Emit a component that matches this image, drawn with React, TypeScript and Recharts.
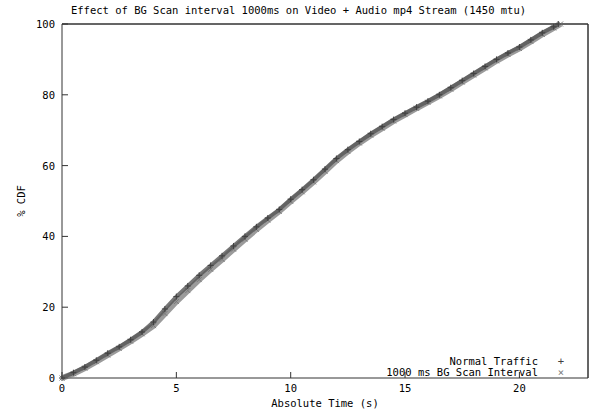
import React from "react";
import { ScatterChart, Scatter, XAxis, YAxis, Label } from "recharts";

// time (s) vs % CDF
const normalTime = [
  0, 0.5, 1, 1.5, 2, 2.5, 3, 3.5, 4, 4.5, 5, 5.5, 6, 6.5, 7, 7.5, 8, 8.5, 9,
  9.5, 10, 10.5, 11, 11.5, 12, 12.5, 13, 13.5, 14, 14.5, 15, 15.5, 16, 16.5,
  17, 17.5, 18, 18.5, 19, 19.5, 20, 20.5, 21, 21.5, 21.7,
];
const normalCdf = [
  0, 1.5, 3.1, 5, 7, 8.8, 10.8, 13, 15.8, 19.5, 23, 26, 29, 31.8, 34.5, 37.3,
  40, 42.7, 45.2, 47.6, 50.5, 53.2, 56, 59, 62, 64.5, 66.8, 69, 71, 73, 74.8,
  76.5, 78.2, 80, 82, 84, 86, 88, 90, 91.8, 93.5, 95.5, 97.5, 99.2, 100,
];

const scanTime = [
  0, 0.5, 1, 1.5, 2, 2.5, 3, 3.5, 4, 4.5, 5, 5.5, 6, 6.5, 7, 7.5, 8, 8.5, 9,
  9.5, 10, 10.5, 11, 11.5, 12, 12.5, 13, 13.5, 14, 14.5, 15, 15.5, 16, 16.5,
  17, 17.5, 18, 18.5, 19, 19.5, 20, 20.5, 21, 21.5, 21.8,
];
const scanCdf = [
  0, 1.2, 2.8, 4.6, 6.5, 8.4, 10.4, 12.5, 14.8, 18.2, 21.6, 24.7, 27.8, 30.7,
  33.5, 36.4, 39.2, 42, 44.6, 47.1, 49.9, 52.6, 55.4, 58.4, 61.4, 64, 66.4,
  68.6, 70.6, 72.6, 74.4, 76.2, 77.9, 79.7, 81.6, 83.6, 85.6, 87.6, 89.6, 91.4,
  93.1, 95.1, 97.1, 98.9, 100,
];

const xTicks = [0, 5, 10, 15, 20];
const yTicks = [0, 20, 40, 60, 80, 100];
const X_MAX = 23;

const normalData = normalTime.map((t, i) => ({ t, cdf: normalCdf[i] }));
const scanData = scanTime.map((t, i) => ({ t, cdf: scanCdf[i] }));

const FONT = "'DejaVu Sans Mono', monospace";
const AXIS = "#333";
const PLOT_W = 526;

const Plus = (props: any) => {
  const { cx, cy } = props;
  return (
    <path
      d={`M${cx - 3},${cy}H${cx + 3}M${cx},${cy - 3}V${cy + 3}`}
      stroke="#404040"
      strokeWidth={1}
      fill="none"
    />
  );
};

const Cross = (props: any) => {
  const { cx, cy } = props;
  return (
    <path
      d={`M${cx - 2.5},${cy - 2.5}L${cx + 2.5},${cy + 2.5}M${cx - 2.5},${cy + 2.5}L${cx + 2.5},${cy - 2.5}`}
      stroke="#7a7a7a"
      strokeWidth={1}
      fill="none"
    />
  );
};

const Nothing = () => null;

// tickSize is negative so the tick lines point into the plot (gnuplot style);
// the labels are moved back outside here
const BottomTick = (props: any) => {
  const { x, y, payload } = props;
  return (
    <text x={x} y={Number(y) + 20} textAnchor="middle" fontFamily={FONT} fontSize={10.5} fill="#000">
      {payload.value}
    </text>
  );
};

const LeftTick = (props: any) => {
  const { x, y, payload } = props;
  return (
    <text x={Number(x) - 13} y={Number(y) + 4} textAnchor="end" fontFamily={FONT} fontSize={10.5} fill="#000">
      {payload.value}
    </text>
  );
};

const legendRow: React.CSSProperties = {
  display: "flex",
  justifyContent: "flex-end",
  height: 11,
  lineHeight: "11px",
};

export default function App() {
  return (
    <div style={{ position: "absolute", left: 0, top: 0 }}>
      <ScatterChart
        width={597}
        height={410}
        margin={{ top: 0, right: 0, bottom: 0, left: 0 }}
      >
        <XAxis
          dataKey="t"
          type="number"
          domain={[0, X_MAX]}
          ticks={xTicks}
          height={32}
          stroke={AXIS}
          tickSize={-6}
          tickMargin={0}
          tick={<BottomTick />}
        >
          <Label
            content={({ viewBox }: any) => (
              <text
                x={viewBox.x + viewBox.width / 2}
                y={viewBox.y + 29}
                textAnchor="middle"
                fontFamily={FONT}
                fontSize={10.5}
                fill="#000"
              >
                Absolute Time (s)
              </text>
            )}
          />
        </XAxis>
        <XAxis
          xAxisId="t"
          orientation="top"
          dataKey="t"
          type="number"
          domain={[0, X_MAX]}
          ticks={xTicks}
          height={24}
          stroke={AXIS}
          tickSize={-6}
          tick={false}
        />
        <YAxis
          dataKey="cdf"
          type="number"
          domain={[0, 100]}
          ticks={yTicks}
          width={62}
          stroke={AXIS}
          tickSize={-6}
          tickMargin={0}
          tick={<LeftTick />}
        >
          <Label
            content={({ viewBox }: any) => {
              const cx = 25;
              const cy = viewBox.y + viewBox.height / 2;
              const left = viewBox.x + viewBox.width;
              return (
                <g>
                  {/* top and right border of the plot box */}
                  <path
                    d={`M${left},${viewBox.y}H${left + PLOT_W}V${viewBox.y + viewBox.height}`}
                    stroke={AXIS}
                    strokeWidth={1}
                    fill="none"
                  />
                  <text
                    x={cx}
                    y={cy}
                    transform={`rotate(-90 ${cx} ${cy})`}
                    textAnchor="middle"
                    fontFamily={FONT}
                    fontSize={10.5}
                    fill="#000"
                  >
                    % CDF
                  </text>
                </g>
              );
            }}
          />
        </YAxis>
        <YAxis
          yAxisId="r"
          orientation="right"
          dataKey="cdf"
          type="number"
          domain={[0, 100]}
          ticks={yTicks}
          width={9}
          stroke={AXIS}
          tickSize={-6}
          tick={false}
        />
        {/* carries the mirrored top/right axes */}
        <Scatter
          data={normalData}
          xAxisId="t"
          yAxisId="r"
          shape={<Nothing />}
          legendType="none"
          isAnimationActive={false}
        />
        <Scatter
          name="1000 ms BG Scan Interval"
          data={scanData}
          shape={<Cross />}
          line={{ stroke: "#7a7a7a", strokeWidth: 6, strokeOpacity: 0.75 }}
          lineType="joint"
          isAnimationActive={false}
        />
        <Scatter
          name="Normal Traffic"
          data={normalData}
          shape={<Plus />}
          line={{ stroke: "#555", strokeWidth: 4, strokeOpacity: 0.8 }}
          lineType="joint"
          isAnimationActive={false}
        />
      </ScatterChart>
      <div
        style={{
          position: "absolute",
          left: 0,
          top: 4,
          width: 597,
          textAlign: "center",
          fontFamily: FONT,
          fontSize: 10.5,
          color: "#000",
        }}
      >
        Effect of BG Scan interval 1000ms on Video + Audio mp4 Stream (1450 mtu)
      </div>
      <div
        style={{
          position: "absolute",
          left: 300,
          top: 356,
          width: 284,
          fontFamily: FONT,
          fontSize: 10.5,
          color: "#000",
        }}
      >
        <div style={legendRow}>
          <span>Normal Traffic</span>
          <span style={{ width: 46, textAlign: "center", color: "#404040" }}>+</span>
        </div>
        <div style={legendRow}>
          <span>1000 ms BG Scan Interval</span>
          <span style={{ width: 46, textAlign: "center", color: "#7a7a7a" }}>×</span>
        </div>
      </div>
    </div>
  );
}
